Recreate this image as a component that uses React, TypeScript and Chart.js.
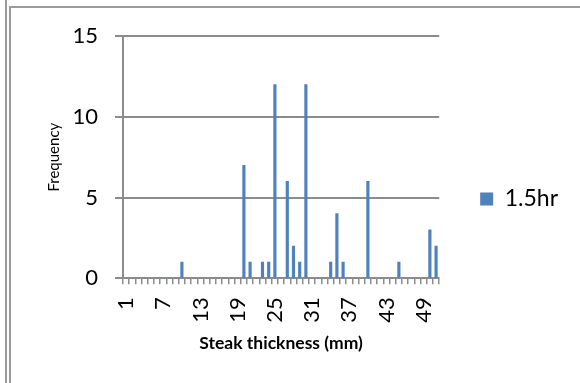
import { useEffect, useRef } from 'react';
import { Chart, registerables } from 'chart.js';

Chart.register(...registerables);

const categories = [
  '1', '2', '3', '4', '5', '6', '7', '8', '9', '10',
  '11', '12', '13', '14', '15', '16', '17', '18', '19', '20',
  '21', '22', '23', '24', '25', '26', '27', '28', '29', '30',
  '31', '32', '33', '34', '35', '36', '37', '38', '39', '40',
  '41', '42', '43', '44', '45', '46', '47', '48', '49', '50',
  '51',
];

const frequency15hr = [
  0, 0, 0, 0, 0, 0, 0, 0, 0, 1,
  0, 0, 0, 0, 0, 0, 0, 0, 0, 7,
  1, 0, 1, 1, 12, 0, 6, 2, 1, 12,
  0, 0, 0, 1, 4, 1, 0, 0, 0, 6,
  0, 0, 0, 0, 1, 0, 0, 0, 0, 3,
  2,
];

const shownTickLabels = ['1', '7', '13', '19', '25', '31', '37', '43', '49'];

const seriesName = '1.5hr';
const xTitle = 'Steak thickness (mm)';
const yTitle = 'Frequency';
const yMin = 0;
const yMax = 15;
const yStep = 5;

export default function App() {
  const ref = useRef<HTMLCanvasElement>(null);

  useEffect(() => {
    if (!ref.current) return;
    Chart.defaults.font.family = 'Lato';
    const gray = '#8c8c8c';
    const chart = new Chart(ref.current, {
      type: 'bar',
      data: {
        labels: categories,
        datasets: [
          {
            label: seriesName,
            data: frequency15hr,
            backgroundColor: '#4F81BD',
            borderWidth: 0,
            barThickness: 2.5,
          },
        ],
      },
      options: {
        responsive: false,
        animation: false,
        layout: { padding: { left: 0, top: 36, right: 12, bottom: 21 } },
        plugins: {
          legend: {
            position: 'right',
            labels: {
              boxWidth: 13,
              boxHeight: 13,
              padding: 41,
              color: '#000',
              font: { size: 23 },
            },
          },
          tooltip: { enabled: false },
        },
        scales: {
          x: {
            grid: {
              display: true,
              drawOnChartArea: false,
              drawTicks: true,
              tickLength: 6,
              offset: true,
              color: gray,
              lineWidth: 1.5,
            },
            border: { display: true, color: gray, width: 2 },
            ticks: {
              autoSkip: false,
              minRotation: 90,
              maxRotation: 90,
              padding: 13,
              color: '#000',
              font: { size: 22 },
              callback: (_v: any, i: number) => {
                const l = categories[i];
                return shownTickLabels.includes(l) ? l : '';
              },
            },
            title: {
              display: true,
              text: xTitle,
              color: '#000',
              font: { size: 17.5, weight: 'bold' },
              padding: { top: 0, bottom: 8 },
            },
            afterFit: (s: any) => {
              s.height = 83.7;
            },
          },
          y: {
            min: yMin,
            max: yMax,
            ticks: { stepSize: yStep, padding: 17, color: '#000', font: { size: 22 } },
            grid: { color: gray, lineWidth: 2, tickLength: 8 },
            border: { color: gray, width: 2 },
            title: {
              display: true,
              text: yTitle,
              color: '#000',
              font: { size: 15 },
              padding: { top: 45, bottom: 0 },
            },
            afterFit: (s: any) => {
              s.width = 123;
            },
          },
        },
      },
    });
    return () => chart.destroy();
  }, []);

  return (
    <div style={{ position: 'fixed', left: 0, top: 0, width: 580, height: 383, background: '#fff', overflow: 'hidden' }}>
      <div style={{ position: 'absolute', left: 5, top: 0, width: 2, height: 383, background: '#9a9a9a' }} />
      <div
        style={{
          position: 'absolute',
          left: 9,
          top: 6,
          right: -4,
          bottom: -4,
          borderTop: '2px solid #9a9a9a',
          borderLeft: '2px solid #9a9a9a',
        }}
      />
      <canvas ref={ref} width={580} height={383} style={{ position: 'absolute', left: 0, top: 0, width: 580, height: 383 }} />
    </div>
  );
}
